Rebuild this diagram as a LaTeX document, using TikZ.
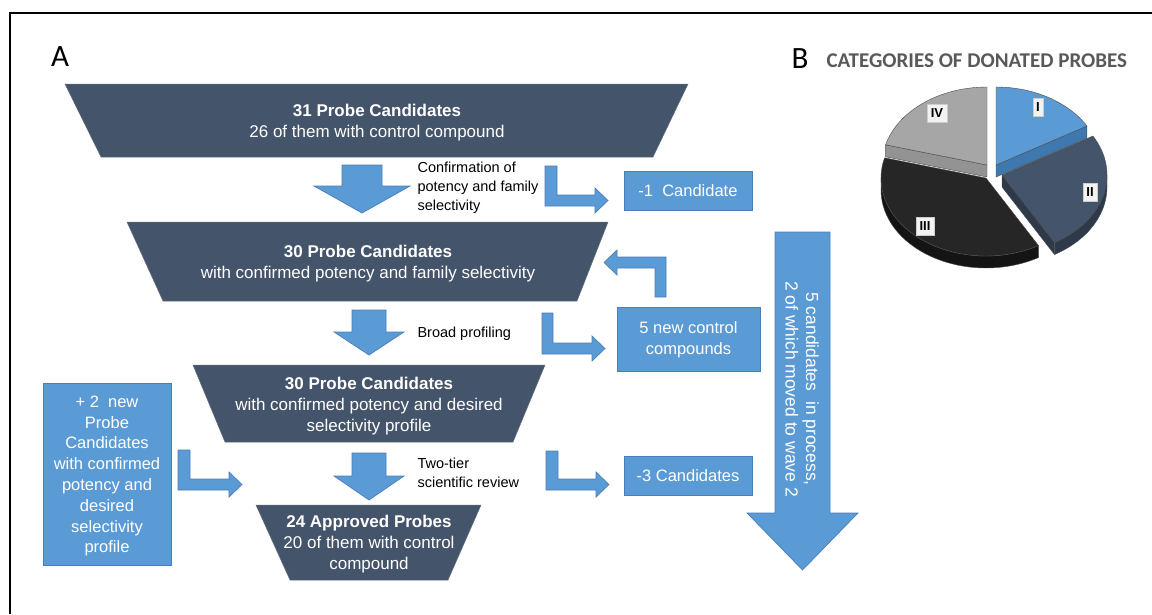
\documentclass[tikz,border=0pt]{standalone}
\usepackage{fontspec}
\setmainfont{Liberation Sans}
\newfontfamily\calibri{Carlito}
\begin{document}
\definecolor{slate}{HTML}{44546A}
\definecolor{lblue}{HTML}{5B9BD5}
\definecolor{lbedge}{HTML}{4A7EBB}
\definecolor{catgray}{HTML}{595959}
\definecolor{pI}{HTML}{5B9BD5}\definecolor{pIw}{HTML}{3F78AE}
\definecolor{pII}{HTML}{44546A}\definecolor{pIIw}{HTML}{2E3A4A}
\definecolor{pIII}{HTML}{262626}\definecolor{pIIIw}{HTML}{141414}
\definecolor{pIV}{HTML}{A6A6A6}\definecolor{pIVw}{HTML}{939393}
\begin{tikzpicture}[x=1pt,y=-1pt,
  trap/.style={fill=slate,draw=slate!85!white,line width=0.5pt},
  blue/.style={fill=lblue,draw=lbedge,line width=0.7pt},
  traptext/.style={text=white,align=center,font=\fontsize{17}{21}\selectfont},
  boxtext/.style={text=white,align=center,font=\fontsize{16.5}{21}\selectfont},
  lbl/.style={text=black,align=left,anchor=west,font=\fontsize{14.5}{19}\selectfont},
  pielbl/.style={fill=white!95!black,draw=white!80!black,line width=0.3pt,inner sep=3.5pt,minimum height=18pt,font=\bfseries\fontsize{13}{13}\selectfont},
  pieedge/.style={draw=black!70,line width=0.4pt}]
\useasboundingbox (0,0) rectangle (1152,614);
% frame
\draw[line width=1.4pt] (10,614) -- (10,13) -- (1152,13);
% panel letters
\node[font=\calibri\fontsize{31}{31}\selectfont] (lA) at (60,57) {A};
\node[font=\calibri\fontsize{31}{31}\selectfont] (lB) at (800,59) {B};
\node[font=\calibri\bfseries\fontsize{21}{22}\selectfont,text=catgray,anchor=west] (cat) at (823,61) {CATEGORIES OF DONATED PROBES};

% trapezoids
\path[trap] (65,84) -- (688,84) -- (653,157) -- (101,157) -- cycle;
\path[trap] (127,222) -- (608,222) -- (577,301) -- (163,301) -- cycle;
\path[trap] (193,365) -- (545,365) -- (513,442) -- (225,442) -- cycle;
\path[trap] (256,505) -- (481,505) -- (448,580) -- (290,580) -- cycle;
\node[traptext] (t1) at (377,122.5) {\textbf{31 Probe Candidates}\\26 of them with control compound};
\node[traptext] (t2) at (368,264) {\textbf{30 Probe Candidates}\\with confirmed potency and family selectivity};
\node[traptext] (t3) at (369,406) {\textbf{30 Probe Candidates}\\with confirmed potency and desired\\selectivity profile};
\node[traptext] (t4) at (369,544) {\textbf{24 Approved Probes}\\20 of them with control\\compound};

% down arrows
\path[blue] (342,165) -- (382,165) -- (382,186) -- (410,186) -- (362,213) -- (314,186) -- (342,186) -- cycle;
\path[blue] (352,310) -- (386,310) -- (386,332) -- (404,332) -- (369,355) -- (334,332) -- (352,332) -- cycle;
\path[blue] (352,453) -- (386,453) -- (386,476) -- (404,476) -- (369,500) -- (334,476) -- (352,476) -- cycle;

% step labels
\node[lbl] (s1) at (414,188) {Confirmation of\\potency and family\\selectivity};
\node[lbl] (s2) at (414,334) {Broad profiling};
\node[lbl] (s3) at (414,473) {Two-tier\\scientific review};

% bent arrows
\path[blue] (545,166) -- (557,166) -- (557,195) -- (595,195) -- (595,188) -- (608,200.5) -- (595,213) -- (595,206) -- (545,206) -- cycle;
\path[blue] (542,313) -- (553,313) -- (553,343) -- (592,343) -- (592,336) -- (605,348.5) -- (592,361) -- (592,354) -- (542,354) -- cycle;
\path[blue] (546,451) -- (558,451) -- (558,479) -- (596,479) -- (596,472) -- (609,484.5) -- (596,497) -- (596,490) -- (546,490) -- cycle;
\path[blue] (178,450) -- (190,450) -- (190,479) -- (229,479) -- (229,472) -- (242,484.5) -- (229,497) -- (229,490) -- (178,490) -- cycle;
\path[blue] (655,297) -- (666,297) -- (666,257) -- (617,257) -- (617,250) -- (604,262.5) -- (617,275) -- (617,268) -- (655,268) -- cycle;

% blue boxes
\path[blue] (624,171) rectangle (752,210);
\node[boxtext] (b1) at (688,191) {-1\ \ Candidate};
\path[blue] (617,307) rectangle (760,371);
\node[boxtext] (b2) at (688.5,340) {5 new control\\compounds};
\path[blue] (624,456) rectangle (752,495);
\node[boxtext] (b3) at (688,476) {-3 Candidates};
\path[blue] (43,383) rectangle (171,565);
\node[boxtext,font=\fontsize{16.5}{20.8}\selectfont] (b4) at (107,476) {+ 2\ \ new\\Probe\\Candidates\\with confirmed\\potency and\\desired\\selectivity\\profile};

% big arrow
\path[blue] (775,232) -- (830,232) -- (830,513) -- (858,513) -- (802.5,570) -- (747,513) -- (775,513) -- cycle;
\node[boxtext,rotate=-90,font=\fontsize{17.5}{20.5}\selectfont] (big) at (802,389) {5 candidates\ \ in process,\\2 of which moved to wave 2};

% pie chart
\def\cx{990}\def\cy{170}\def\rx{105}\def\ry{78}\def\dep{12}
% IV: 90-165, offset (-3,-5)
\begin{scope}[shift={(-3,-5)}]
 \path[pieedge,fill=pIVw] (\cx,\cy) -- ({\cx+\rx*cos(165)},{\cy-\ry*sin(165)}) -- ({\cx+\rx*cos(165)},{\cy-\ry*sin(165)+\dep}) -- (\cx,\cy+\dep) -- cycle;
 \path[pieedge,fill=pIV] (\cx,\cy) -- plot[domain=90:165,samples=30] ({\cx+\rx*cos(\x)},{\cy-\ry*sin(\x)}) -- cycle;
\end{scope}
% I: 30-90, offset (6,-5)
\begin{scope}[shift={(6,-5)}]
 \path[pieedge,fill=pIw] (\cx,\cy) -- ({\cx+\rx*cos(30)},{\cy-\ry*sin(30)}) -- ({\cx+\rx*cos(30)},{\cy-\ry*sin(30)+\dep}) -- (\cx,\cy+\dep) -- cycle;
 \path[pieedge,fill=pI] (\cx,\cy) -- plot[domain=30:90,samples=30] ({\cx+\rx*cos(\x)},{\cy-\ry*sin(\x)}) -- cycle;
\end{scope}
% II: 300-390, offset (12,5)
\begin{scope}[shift={(12,5)}]
 \path[pieedge,fill=pIIw] (\cx,\cy) -- ({\cx+\rx*cos(300)},{\cy-\ry*sin(300)}) -- ({\cx+\rx*cos(300)},{\cy-\ry*sin(300)+\dep}) -- (\cx,\cy+\dep) -- cycle;
 \path[pieedge,fill=pIIw] plot[domain=300:360,samples=30] ({\cx+\rx*cos(\x)},{\cy-\ry*sin(\x)}) -- plot[domain=360:300,samples=30] ({\cx+\rx*cos(\x)},{\cy-\ry*sin(\x)+\dep}) -- cycle;
 \path[pieedge,fill=pII] (\cx,\cy) -- plot[domain=300:390,samples=40] ({\cx+\rx*cos(\x)},{\cy-\ry*sin(\x)}) -- cycle;
\end{scope}
% III: 165-300, offset (-4,8)
\begin{scope}[shift={(-4,8)}]
 \path[pieedge,fill=pIIIw] plot[domain=180:300,samples=40] ({\cx+\rx*cos(\x)},{\cy-\ry*sin(\x)}) -- plot[domain=300:180,samples=40] ({\cx+\rx*cos(\x)},{\cy-\ry*sin(\x)+\dep}) -- cycle;
 \path[pieedge,fill=pIII] (\cx,\cy) -- plot[domain=165:300,samples=50] ({\cx+\rx*cos(\x)},{\cy-\ry*sin(\x)}) -- cycle;
\end{scope}
% labels
\node[pielbl] (pl1) at (1038,107) {I};
\node[pielbl] (pl2) at (1090,192) {II};
\node[pielbl] (pl3) at (925,226) {III};
\node[pielbl] (pl4) at (937,113) {IV};
\end{tikzpicture}
\end{document}
